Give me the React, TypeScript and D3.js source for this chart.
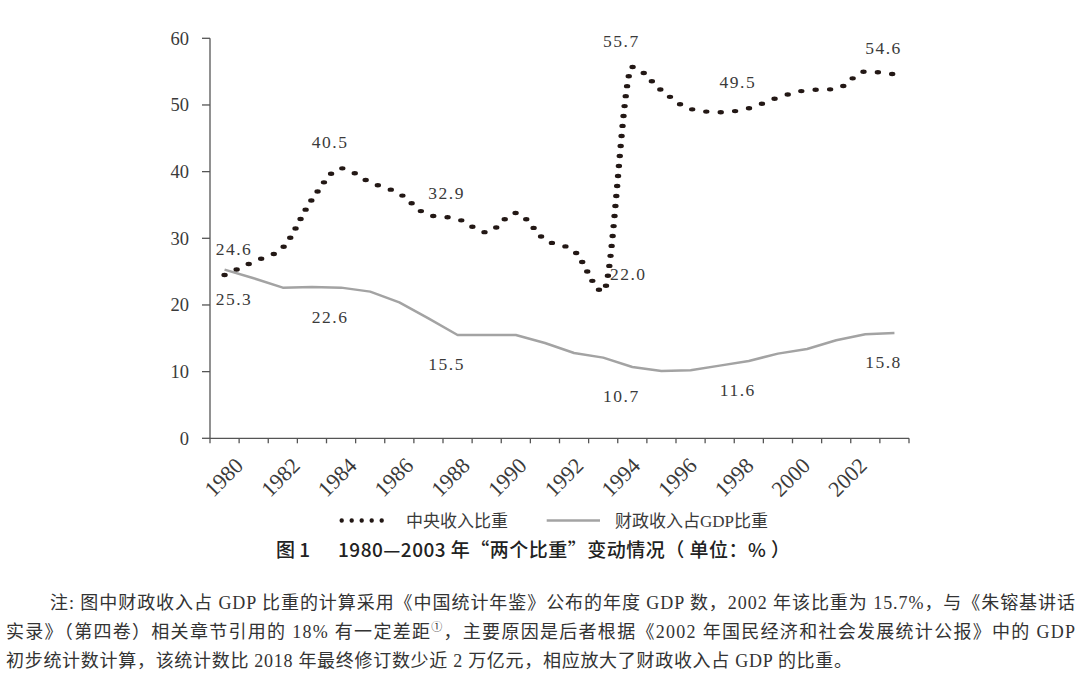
import React from "react";
import * as d3 from "d3";

const years = [1980,1981,1982,1983,1984,1985,1986,1987,1988,1989,1990,1991,1992,1993,1994,1995,1996,1997,1998,1999,2000,2001,2002,2003];
const centralShare = [24.5,26.5,28.6,35.8,40.5,38.4,36.7,33.5,32.9,30.9,33.8,29.8,28.1,22.0,55.7,52.2,49.4,48.9,49.5,51.1,52.2,52.4,55.0,54.6];
const gdpShare = [25.3,24.0,22.6,22.7,22.6,22.0,20.4,18.0,15.5,15.5,15.5,14.3,12.8,12.1,10.7,10.1,10.2,10.9,11.6,12.7,13.4,14.7,15.6,15.8];
const yTicks = [0,10,20,30,40,50,60];
const xTickLabels = [1980,1982,1984,1986,1988,1990,1992,1994,1996,1998,2000,2002];

const centralLabels = [
  { year: 1980, text: "24.6", place: "above" },
  { year: 1984, text: "40.5", place: "above" },
  { year: 1988, text: "32.9", place: "above" },
  { year: 1993, text: "22.0", place: "right" },
  { year: 1994, text: "55.7", place: "above" },
  { year: 1998, text: "49.5", place: "above" },
  { year: 2003, text: "54.6", place: "above" },
];
const gdpLabels = [
  { year: 1980, text: "25.3", place: "below" },
  { year: 1984, text: "22.6", place: "below" },
  { year: 1988, text: "15.5", place: "below" },
  { year: 1994, text: "10.7", place: "below" },
  { year: 1998, text: "11.6", place: "below" },
  { year: 2003, text: "15.8", place: "below" },
];

const legendNames = ["中央收入比重", "财政收入占GDP比重"];
const titleText = ["图 1", "1980—2003 年“两个比重”变动情况（ 单位：% ）"];
const noteLine1 = "注: 图中财政收入占 GDP 比重的计算采用《中国统计年鉴》公布的年度 GDP 数，2002 年该比重为 15.7%，与《朱镕基讲话";
const noteLine2a = "实录》（第四卷）相关章节引用的 18% 有一定差距";
const noteLine2b = "，主要原因是后者根据《2002 年国民经济和社会发展统计公报》中的 GDP";
const noteLine3 = "初步统计数计算，该统计数比 2018 年最终修订数少近 2 万亿元，相应放大了财政收入占 GDP 的比重。";

const SERIF = "'Liberation Serif', 'Noto Sans CJK SC', serif";
const SANS = "'Noto Sans CJK SC', 'Noto Sans', sans-serif";

export default function App() {
  const W = 1080, H = 691;
  const x = d3.scaleBand<number>().domain(years).range([210, 909]).padding(0);
  const bw = x.bandwidth();
  const xc = (yr: number) => (x(yr) as number) + bw / 2;
  const y = d3.scaleLinear().domain([0, 60]).range([438.3, 38.3]);
  const labelX = d3.scaleLinear().domain([1980, 2002]).range([xc(1980) + 20, xc(2002) + 3]);

  const SX = 1.45;
  const dotLine = d3.line<number>()
    .x((_, i) => xc(years[i]) / SX)
    .y((v) => y(v))
    .curve(d3.curveMonotoneX);
  const grayLine = d3.line<number>()
    .x((_, i) => xc(years[i]))
    .y((v) => y(v));

  const axisColor = "#555";
  const textColor = "#3a3a3a";

  const placeLabel = (yr: number, v: number, place: string) => {
    let lx = xc(yr), ly = y(v);
    if (place === "above") { lx = Math.max(lx - 11, 234); ly = ly - 20; }
    else if (place === "below") { lx = Math.max(lx - 11, 234); ly = ly + 35; }
    else { lx = lx + 25; ly = ly - 11.5; }
    return [lx, ly];
  };

  const xTicks = [...years.map((yr) => x(yr) as number), 909];

  return (
    <svg width={W} height={H} style={{ position: "absolute", left: 0, top: 0, background: "#fff" }}>
      <rect width={W} height={H} fill="#fff" />
      {/* axes */}
      <line x1={210} x2={210} y1={y(60)} y2={y(0)} stroke={axisColor} strokeWidth={1.3} />
      <line x1={210} x2={909} y1={y(0)} y2={y(0)} stroke={axisColor} strokeWidth={1.3} />
      {yTicks.map((t) => (
        <g key={t}>
          <line x1={202} x2={210} y1={y(t)} y2={y(t)} stroke={axisColor} strokeWidth={1.3} />
          <text x={189} y={y(t)} dy="0.35em" textAnchor="end" fontFamily={SERIF} fontSize={18.5} fill={textColor}>{t}</text>
        </g>
      ))}
      {xTicks.map((tx, i) => (
        <line key={i} x1={tx} x2={tx} y1={y(0)} y2={y(0) + 5} stroke={axisColor} strokeWidth={1.3} />
      ))}
      {xTickLabels.map((yr) => (
        <text key={yr} transform={`translate(${labelX(yr)},${467}) rotate(-45)`} textAnchor="end"
          fontFamily={SERIF} fontSize={22} fill={textColor}>{yr}</text>
      ))}

      {/* gray line */}
      <path d={grayLine(gdpShare) as string} fill="none" stroke="#a3a3a3" strokeWidth={2.5} strokeLinejoin="round" />
      {/* dotted line */}
      <g transform={`scale(${SX},1)`}>
        <path d={dotLine(centralShare) as string} fill="none" stroke="#231815" strokeWidth={4.4}
          strokeLinecap="round" strokeDasharray="0 10" />
      </g>

      {/* data labels */}
      {centralLabels.map((l) => {
        const [lx, ly] = placeLabel(l.year, centralShare[years.indexOf(l.year)], l.place);
        return <text key={"c" + l.year} x={lx} y={ly} textAnchor="middle" fontFamily={SERIF} fontSize={17.5} letterSpacing={1.5} fill={textColor}>{l.text}</text>;
      })}
      {gdpLabels.map((l) => {
        const [lx, ly] = placeLabel(l.year, gdpShare[years.indexOf(l.year)], l.place);
        return <text key={"g" + l.year} x={lx} y={ly} textAnchor="middle" fontFamily={SERIF} fontSize={17.5} letterSpacing={1.5} fill={textColor}>{l.text}</text>;
      })}

      {/* legend */}
      <path d="M341.7,520.5 H391.7" stroke="#231815" strokeWidth={4.4} strokeLinecap="round" strokeDasharray="0 10" />
      <text x={406} y={527} fontFamily={SERIF} fontSize={17} fill={textColor}>{legendNames[0]}</text>
      <line x1={546.7} x2={600} y1={520.5} y2={520.5} stroke="#a3a3a3" strokeWidth={2.5} />
      <text x={615} y={527} fontFamily={SERIF} fontSize={17} fill={textColor}>{legendNames[1]}</text>

      {/* title */}
      <text x={276} y={557} fontFamily={SANS} fontSize={19} fontWeight={500} fill="#222">{titleText[0]}</text>
      <text x={338} y={557} fontFamily={SANS} fontSize={19} fontWeight={500} fill="#222" textLength={452} lengthAdjust="spacing">{titleText[1]}</text>

      {/* notes */}
      <text x={50} y={609} fontFamily={SERIF} fontSize={18} fill="#333" textLength={1025} lengthAdjust="spacing">{noteLine1}</text>
      <text x={6} y={638} fontFamily={SERIF} fontSize={18} fill="#333" textLength={1069} lengthAdjust="spacing">
        {noteLine2a}<tspan fontSize={11} dy={-7}>①</tspan><tspan dy={7}>{noteLine2b}</tspan>
      </text>
      <text x={6} y={667} fontFamily={SERIF} fontSize={18} fill="#333" textLength={846} lengthAdjust="spacing">{noteLine3}</text>
    </svg>
  );
}
